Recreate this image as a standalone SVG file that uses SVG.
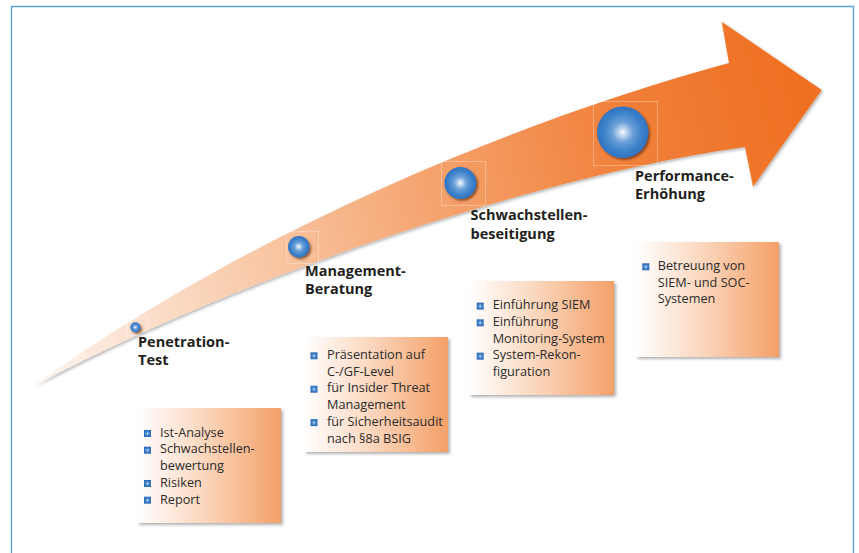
<svg xmlns="http://www.w3.org/2000/svg" width="859" height="553" viewBox="0 0 859 553">
  <defs>
    <linearGradient id="arrowFill" gradientUnits="userSpaceOnUse" x1="35" y1="300" x2="822" y2="100">
      <stop offset="0" stop-color="#fdf1e9"/>
      <stop offset="0.25" stop-color="#f9cdae"/>
      <stop offset="0.5" stop-color="#f5a46f"/>
      <stop offset="0.75" stop-color="#f1803a"/>
      <stop offset="1" stop-color="#ef6e20"/>
    </linearGradient>
    <linearGradient id="boxFill" x1="0" y1="0" x2="1" y2="0">
      <stop offset="0" stop-color="#ffffff"/>
      <stop offset="0.45" stop-color="#fbd8bf"/>
      <stop offset="1" stop-color="#f4a068"/>
    </linearGradient>
    <radialGradient id="ballFill" cx="0.5" cy="0.5" r="0.5">
      <stop offset="0" stop-color="#ffffff"/>
      <stop offset="0.08" stop-color="#d9e7f6"/>
      <stop offset="0.4" stop-color="#6a9fd8"/>
      <stop offset="0.75" stop-color="#3d82cb"/>
      <stop offset="1" stop-color="#2f74c1"/>
    </radialGradient>
    <radialGradient id="bulletFill" cx="0.5" cy="0.5" r="0.6">
      <stop offset="0" stop-color="#e4eefa"/>
      <stop offset="0.3" stop-color="#5e97d6"/>
      <stop offset="0.7" stop-color="#3274c2"/>
      <stop offset="1" stop-color="#2a66b4"/>
    </radialGradient>
    <filter id="arrowShadow" x="-5%" y="-10%" width="110%" height="120%">
      <feDropShadow dx="1.5" dy="1.5" stdDeviation="1.5" flood-color="#000" flood-opacity="0.3"/>
    </filter>
    <filter id="boxShadow" x="-10%" y="-10%" width="125%" height="125%">
      <feDropShadow dx="2" dy="2" stdDeviation="1.8" flood-color="#000" flood-opacity="0.3"/>
    </filter>
    <filter id="ballShadow" x="-30%" y="-30%" width="170%" height="170%">
      <feDropShadow dx="1.8" dy="1.8" stdDeviation="1.3" flood-color="#5a2e10" flood-opacity="0.7"/>
    </filter>
    <rect id="bullet" width="7" height="7" fill="url(#bulletFill)"/>
  </defs>
  <style>
    .frame { fill: none; stroke: #5b9fd9; stroke-width: 1.3; }
    .label { font-family: "Open Sans", "Noto Sans", sans-serif; font-weight: 700; font-size: 14.5px; fill: #231f20; }
    .item { font-family: "Open Sans", "Noto Sans", sans-serif; font-size: 12.7px; fill: #2b2b2b; }
    .box { fill: url(#boxFill); filter: url(#boxShadow); }
    .ball { fill: url(#ballFill); filter: url(#ballShadow); }
    .halo { fill: none; stroke: #ffffff; stroke-opacity: 0.3; stroke-width: 1; }
  </style>

  <!-- page frame, open at the bottom -->
  <path class="frame" d="M11.5,553 V6.5 H853.5 V553"/>

  <!-- rising arrow -->
  <g id="connectors">
    <path id="timeline-arrow" fill="url(#arrowFill)" filter="url(#arrowShadow)"
          d="M35,385 C250,230 520,120 729,63 L721.7,21.7 L821.7,90 L753,186.7 L745,147 C550,174 250,271 35,385 Z"/>
  </g>

  <!-- milestone 1 -->
  <g id="penetration-test">
    <rect class="halo" x="127.5" y="317.5" width="21" height="18"/>
    <circle class="ball" cx="135.3" cy="327.3" r="5"/>
    <text class="label" x="138" y="346.7">Penetration-</text>
    <text class="label" x="138" y="365">Test</text>
    <rect class="box" x="137" y="408" width="144" height="115"/>
    <use href="#bullet" x="144" y="430"/>
    <use href="#bullet" x="144" y="446.7"/>
    <use href="#bullet" x="144" y="480"/>
    <use href="#bullet" x="144" y="496.7"/>
    <text class="item" x="160" y="436.7">Ist-Analyse</text>
    <text class="item" x="160" y="453.4">Schwachstellen-</text>
    <text class="item" x="160" y="470.1">bewertung</text>
    <text class="item" x="160" y="486.8">Risiken</text>
    <text class="item" x="160" y="503.5">Report</text>
  </g>

  <!-- milestone 2 -->
  <g id="management-beratung">
    <rect class="halo" x="286.5" y="231.5" width="32" height="32"/>
    <circle class="ball" cx="298.7" cy="246.7" r="10.7"/>
    <text class="label" x="305" y="275.6">Management-</text>
    <text class="label" x="305" y="294">Beratung</text>
    <rect class="box" x="304" y="337" width="144" height="115"/>
    <use href="#bullet" x="310.5" y="352.3"/>
    <use href="#bullet" x="310.5" y="385.7"/>
    <use href="#bullet" x="310.5" y="419.1"/>
    <text class="item" x="327" y="359">Präsentation auf</text>
    <text class="item" x="327" y="375.7">C-/GF-Level</text>
    <text class="item" x="327" y="392.4">für Insider Threat</text>
    <text class="item" x="327" y="409.1">Management</text>
    <text class="item" x="327" y="425.8">für Sicherheitsaudit</text>
    <text class="item" x="327" y="442.5">nach §8a BSIG</text>
  </g>

  <!-- milestone 3 -->
  <g id="schwachstellen-beseitigung">
    <rect class="halo" x="441.5" y="161.5" width="44" height="44"/>
    <circle class="ball" cx="460.3" cy="183" r="16"/>
    <text class="label" x="470.5" y="220.3">Schwachstellen-</text>
    <text class="label" x="470.5" y="238.5">beseitigung</text>
    <rect class="box" x="469" y="281" width="145" height="114"/>
    <use href="#bullet" x="476.7" y="302.6"/>
    <use href="#bullet" x="476.7" y="319.3"/>
    <use href="#bullet" x="476.7" y="352.7"/>
    <text class="item" x="492.7" y="309.3">Einführung SIEM</text>
    <text class="item" x="492.7" y="326">Einführung</text>
    <text class="item" x="492.7" y="342.7">Monitoring-System</text>
    <text class="item" x="492.7" y="359.4">System-Rekon-</text>
    <text class="item" x="492.7" y="376.1">figuration</text>
  </g>

  <!-- milestone 4 -->
  <g id="performance-erhoehung">
    <rect class="halo" x="593.5" y="101.5" width="64" height="64"/>
    <circle class="ball" cx="622.7" cy="132.3" r="25.7"/>
    <text class="label" x="635" y="180.7">Performance-</text>
    <text class="label" x="635" y="199">Erhöhung</text>
    <rect class="box" x="636" y="242" width="143" height="115"/>
    <use href="#bullet" x="642.3" y="263.3"/>
    <text class="item" x="657.7" y="270">Betreuung von</text>
    <text class="item" x="657.7" y="286.7">SIEM- und SOC-</text>
    <text class="item" x="657.7" y="303.4">Systemen</text>
  </g>
</svg>
